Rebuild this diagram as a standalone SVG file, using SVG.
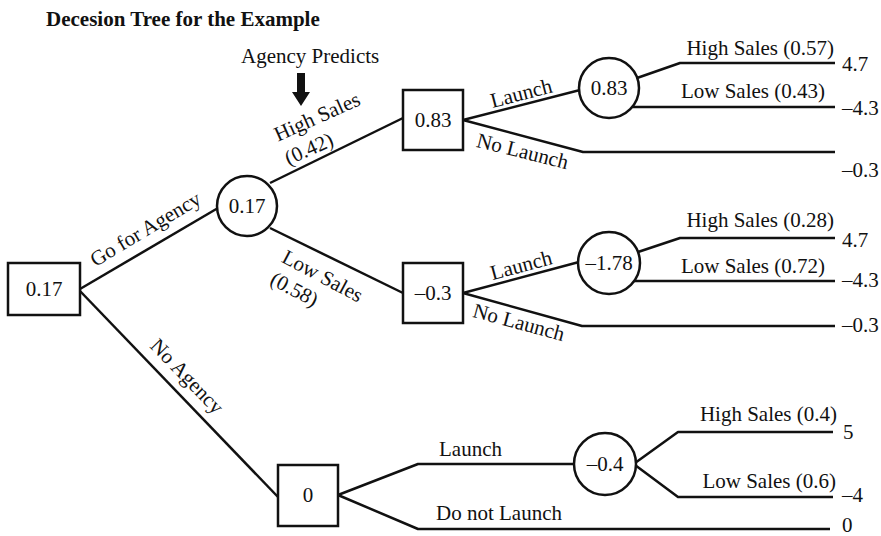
<svg xmlns="http://www.w3.org/2000/svg" width="881" height="536" viewBox="0 0 881 536">
  <style>
    text { font-family: "Liberation Serif", "Times New Roman", serif; font-size: 21px; fill: #111; }
    .title { font-weight: bold; }
    .val { text-anchor: middle; }
    .node { fill: #fff; stroke: #111; stroke-width: 2.5; }
    .edge { fill: none; stroke: #111; stroke-width: 2.5; stroke-linejoin: round; }
    .end { text-anchor: end; }
  </style>
  <rect width="881" height="536" fill="#fff"/>

  <text class="title" x="46" y="26">Decesion Tree for the Example</text>

  <!-- annotation over the agency forecast -->
  <g id="agency-note">
    <text x="241" y="63">Agency Predicts</text>
    <polygon points="297,73 305,73 305,92 310,92 301,106 292,92 297,92" fill="#111"/>
  </g>

  <!-- connectors -->
  <g id="connectors">
    <polyline class="edge" points="80,289 218,208"/>
    <polyline class="edge" points="80,291 278,497"/>
    <polyline class="edge" points="270,183 403,118"/>
    <polyline class="edge" points="270,228 403,293"/>

    <polyline class="edge" points="463,120 580,90"/>
    <polyline class="edge" points="463,120 583,152 835,152"/>
    <polyline class="edge" points="637,78 680,63 835,63"/>
    <polyline class="edge" points="632,107 835,107"/>

    <polyline class="edge" points="463,293 579,262"/>
    <polyline class="edge" points="463,293 582,326 835,326"/>
    <polyline class="edge" points="638,252 680,238 835,238"/>
    <polyline class="edge" points="634,281 835,281"/>

    <polyline class="edge" points="338,495 418,464 574,464"/>
    <polyline class="edge" points="338,495 418,529 830,529"/>
    <polyline class="edge" points="635,463 678,432 833,432"/>
    <polyline class="edge" points="635,465 678,497 833,497"/>
  </g>

  <!-- branch labels -->
  <g id="branch-labels">
    <text class="val" transform="translate(149,235) rotate(-31)">Go for Agency</text>
    <text class="val" transform="translate(182,381) rotate(46)">No Agency</text>
    <g transform="translate(320,123) rotate(-24)">
      <text x="-46" y="0">High Sales</text>
      <text x="-46" y="26">(0.42)</text>
    </g>
    <g transform="translate(321,283) rotate(28)">
      <text x="-46" y="0">Low Sales</text>
      <text x="-46" y="25">(0.58)</text>
    </g>
    <text class="val" transform="translate(523,100) rotate(-14.5)">Launch</text>
    <text class="val" transform="translate(521,158) rotate(14)">No Launch</text>
    <text class="val" transform="translate(523,272) rotate(-15)">Launch</text>
    <text class="val" transform="translate(517,329) rotate(15)">No Launch</text>
    <text x="439" y="456">Launch</text>
    <text x="436" y="520">Do not Launch</text>

    <text class="end" x="834" y="55">High Sales (0.57)</text>
    <text class="end" x="825" y="98">Low Sales (0.43)</text>
    <text class="end" x="834" y="227">High Sales (0.28)</text>
    <text class="end" x="825" y="273">Low Sales (0.72)</text>
    <text class="end" x="837" y="421">High Sales (0.4)</text>
    <text class="end" x="836" y="488">Low Sales (0.6)</text>
  </g>

  <!-- payoffs -->
  <g id="payoffs">
    <text x="842" y="71">4.7</text>
    <text x="842" y="115">–4.3</text>
    <text x="842" y="177">–0.3</text>
    <text x="842" y="247">4.7</text>
    <text x="842" y="287">–4.3</text>
    <text x="842" y="332">–0.3</text>
    <text x="843" y="439">5</text>
    <text x="842" y="502">–4</text>
    <text x="842" y="532">0</text>
  </g>

  <!-- decision nodes (squares) and chance nodes (circles) -->
  <g id="root">
    <rect class="node" x="8" y="263" width="72" height="52"/>
    <text class="val" x="44" y="296">0.17</text>
  </g>
  <g id="agency-chance">
    <circle class="node" cx="247" cy="206" r="30"/>
    <text class="val" x="247" y="213">0.17</text>
  </g>
  <g id="high-decision">
    <rect class="node" x="403" y="90" width="60" height="60"/>
    <text class="val" x="433" y="127">0.83</text>
  </g>
  <g id="high-launch">
    <circle class="node" cx="609" cy="88" r="30"/>
    <text class="val" x="609" y="95">0.83</text>
  </g>
  <g id="low-decision">
    <rect class="node" x="403" y="263" width="60" height="60"/>
    <text class="val" x="433" y="300">–0.3</text>
  </g>
  <g id="low-launch">
    <circle class="node" cx="609" cy="263" r="31"/>
    <text class="val" x="609" y="270">–1.78</text>
  </g>
  <g id="no-agency-decision">
    <rect class="node" x="278" y="465" width="60" height="61"/>
    <text class="val" x="308" y="502">0</text>
  </g>
  <g id="no-agency-launch">
    <circle class="node" cx="605" cy="464" r="31"/>
    <text class="val" x="605" y="471">–0.4</text>
  </g>
</svg>
